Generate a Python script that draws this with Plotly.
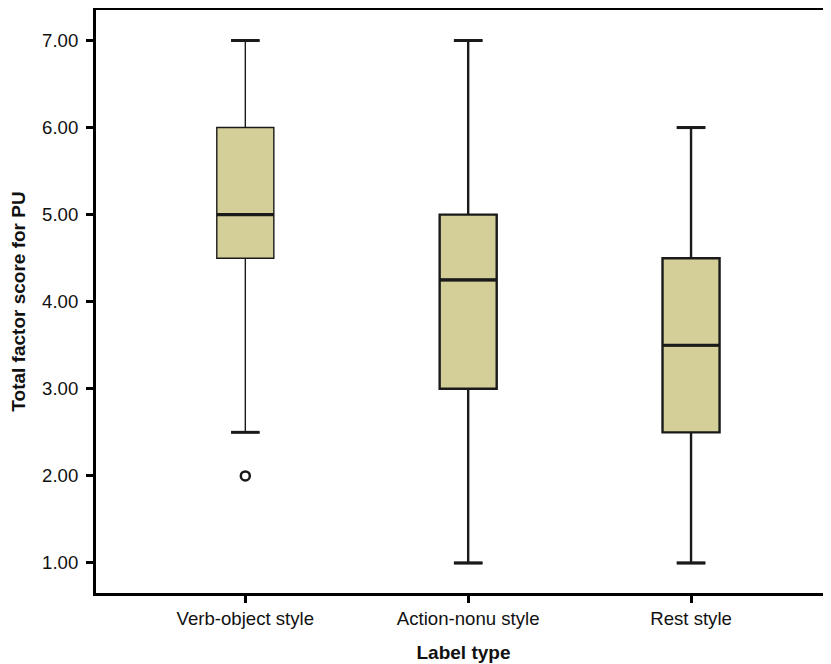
import plotly.graph_objects as go

# ---- data ----
categories = ["Verb-object style", "Action-nonu style", "Rest style"]
q1 = [4.5, 3.0, 2.5]
median = [5.0, 4.25, 3.5]
q3 = [6.0, 5.0, 4.5]
lower_fence = [2.5, 1.0, 1.0]
upper_fence = [7.0, 7.0, 6.0]
outlier_cat = [0]
outlier_val = [2.0]
y_ticks = [1, 2, 3, 4, 5, 6, 7]
y_tick_labels = ["1.00", "2.00", "3.00", "4.00", "5.00", "6.00", "7.00"]

# ---- style ----
FILL = "#D4CF99"
LINE = "#1a1a1a"
FONT = "Liberation Sans, Arial, sans-serif"
BOX_W = 0.256
WHISK_W = 0.5
line_widths = [1.4, 2.4, 2.4]

fig = go.Figure()
for i, cat in enumerate(categories):
    fig.add_trace(go.Box(
        x=[i], q1=[q1[i]], median=[median[i]], q3=[q3[i]],
        lowerfence=[lower_fence[i]], upperfence=[upper_fence[i]],
        width=BOX_W, whiskerwidth=WHISK_W,
        fillcolor=FILL, line=dict(color=LINE, width=line_widths[i]),
        boxpoints=False, showlegend=False, name=cat,
    ))

# thicker median lines and whisker caps (derived from the data)
for i in range(len(categories)):
    fig.add_trace(go.Scatter(
        x=[i - BOX_W / 2, i + BOX_W / 2], y=[median[i], median[i]],
        mode="lines", line=dict(color=LINE, width=3.2),
        showlegend=False, hoverinfo="skip"))
    cw = BOX_W * WHISK_W / 2
    for f in (lower_fence[i], upper_fence[i]):
        fig.add_trace(go.Scatter(
            x=[i - cw, i + cw], y=[f, f],
            mode="lines", line=dict(color=LINE, width=3),
            showlegend=False, hoverinfo="skip"))

fig.add_trace(go.Scatter(
    x=outlier_cat, y=outlier_val, mode="markers",
    marker=dict(symbol="circle-open", size=9, color=LINE, line=dict(width=2.5, color=LINE)),
    showlegend=False))

fig.update_layout(
    width=823, height=656,
    margin=dict(l=87.5, r=0, t=1.5, b=71),
    plot_bgcolor="white", paper_bgcolor="white",
    font=dict(family=FONT, size=18.6, color="#111"),
    xaxis=dict(
        range=[-0.670, 2.628],
        tickmode="array", tickvals=list(range(len(categories))), ticktext=categories,
        ticks="outside", ticklen=7, tickwidth=2.5, tickcolor="black",
        showline=True, linewidth=3, linecolor="black", mirror=True,
        showgrid=False, zeroline=False, automargin=False,
        title=dict(text="<b>Label type</b>", font=dict(family=FONT, size=19), standoff=18),
    ),
    yaxis=dict(
        range=[0.655, 7.35],
        tickmode="array", tickvals=y_ticks, ticktext=y_tick_labels,
        ticks="outside", ticklen=7, tickwidth=2.5, tickcolor="black",
        ticklabelstandoff=4,
        showline=True, linewidth=3, linecolor="black",
        showgrid=False, zeroline=False, automargin=False,
        title=dict(text="<b>Total factor score for PU</b>", font=dict(family=FONT, size=19), standoff=12),
    ),
)

fig.write_html("out.html")
